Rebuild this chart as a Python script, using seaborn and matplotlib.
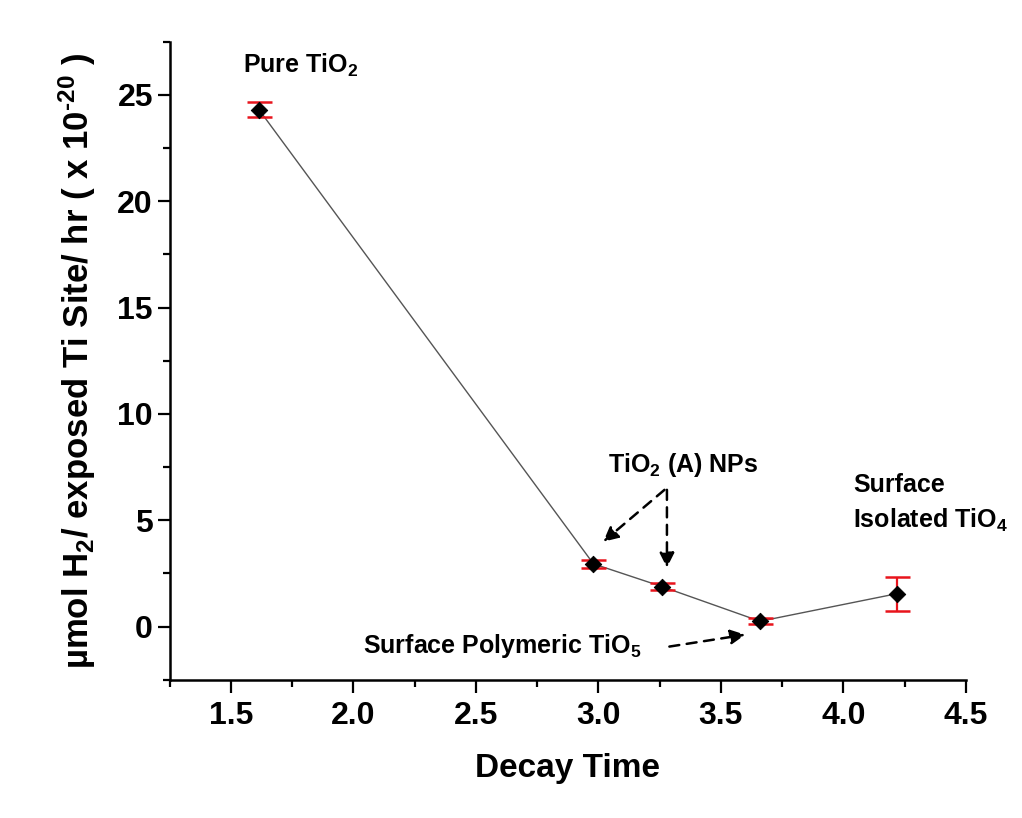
import pandas as pd
import matplotlib
matplotlib.use("Agg")
import matplotlib.pyplot as plt
import seaborn as sns
from matplotlib.ticker import MultipleLocator

# decay time vs H2 rate per exposed Ti site
decay_time = [1.615, 2.98, 3.26, 3.66, 4.22]
h2_rate = [24.3, 2.95, 1.88, 0.25, 1.55]
h2_err = [0.35, 0.18, 0.15, 0.15, 0.8]

df = pd.DataFrame({"Decay Time": decay_time, "rate": h2_rate, "err": h2_err})

sns.set_style("ticks")
plt.rcParams["font.family"] = ["Liberation Sans", "DejaVu Sans"]
plt.rcParams["font.weight"] = "bold"
plt.rcParams["mathtext.default"] = "regular"
for k in ["text.color", "axes.labelcolor", "xtick.color", "ytick.color", "axes.edgecolor"]:
    plt.rcParams[k] = "black"

fig = plt.figure(figsize=(10.22, 8.18), dpi=100)
ax = fig.add_axes([0.166, 0.169, 0.779, 0.780])

# connecting line
sns.lineplot(data=df, x="Decay Time", y="rate", color="#555555", lw=1.0, ax=ax, zorder=1)
# error bars
ax.errorbar(df["Decay Time"], df["rate"], yerr=df["err"], fmt="none",
            ecolor="#e8141c", elinewidth=1.6, capsize=9, capthick=1.8, zorder=2)
# markers
sns.scatterplot(data=df, x="Decay Time", y="rate", marker="D", s=70, color="black",
                edgecolor="black", ax=ax, zorder=3)

ax.set_xlim(1.25, 4.5)
ax.set_ylim(-2.5, 27.5)
ax.xaxis.set_major_locator(MultipleLocator(0.5))
ax.xaxis.set_minor_locator(MultipleLocator(0.25))
ax.yaxis.set_major_locator(MultipleLocator(5))
ax.yaxis.set_minor_locator(MultipleLocator(2.5))
ax.tick_params(which="major", length=9, width=1.6, labelsize=23, pad=6)
ax.tick_params(which="minor", length=5, width=1.6)
ax.tick_params(axis="y", pad=3)
for lab in ax.get_xticklabels() + ax.get_yticklabels():
    lab.set_fontweight("bold")

sns.despine(ax=ax)
for sp in ["left", "bottom"]:
    ax.spines[sp].set_linewidth(1.8)

ax.set_xlabel("Decay Time", fontsize=24, fontweight="bold", labelpad=16)
ax.set_ylabel("µmol H$_2$/ exposed Ti Site/ hr ( x 10$^{\u201020}$ )",
              fontsize=25, fontweight="bold", labelpad=14)

# sample labels
fs = 18
ax.text(1.55, 26.05, "Pure TiO$_2$", fontsize=fs, fontweight="bold")
ax.text(3.04, 7.28, "TiO$_2$ (A) NPs", fontsize=fs, fontweight="bold")
ax.text(4.04, 6.34, "Surface", fontsize=fs, fontweight="bold")
ax.text(4.04, 4.65, "Isolated TiO$_4$", fontsize=fs, fontweight="bold")
ax.text(2.04, -1.22, "Surface Polymeric TiO$_5$", fontsize=fs, fontweight="bold")

# dashed pointer arrows
arrow = dict(arrowstyle="-|>", linestyle=(0, (4, 3)), color="black", lw=1.8,
             mutation_scale=22, shrinkA=0, shrinkB=0)
ax.annotate("", xy=(3.02, 3.99), xytext=(3.27, 6.43), arrowprops=arrow)
ax.annotate("", xy=(3.28, 2.77), xytext=(3.28, 6.43), arrowprops=arrow)
ax.annotate("", xy=(3.60, -0.38), xytext=(3.29, -0.94), arrowprops=arrow)

fig.savefig("out.png", dpi=100)
